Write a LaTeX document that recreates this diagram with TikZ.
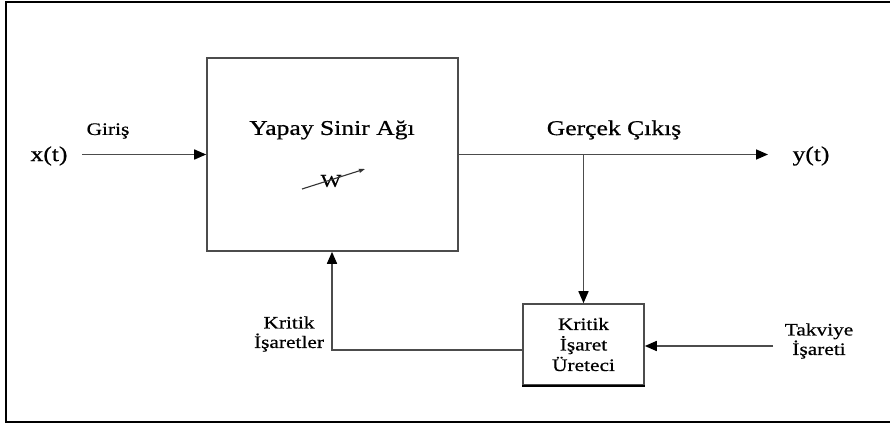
\documentclass[tikz,border=0pt]{standalone}
\usepackage{fontspec}
\setmainfont[FakeStretch=1.22,FakeBold=0.6]{Liberation Serif}
\usetikzlibrary{arrows.meta}
\begin{document}
\begin{tikzpicture}[x=1pt,y=-1pt,
  line/.style={draw=black!70, line width=1.6pt},
  arr/.style={line, -{Triangle[length=12pt,width=10pt,color=black]}},
  box/.style={line, inner sep=0pt, fill=white},
  lbl/.style={inner sep=0pt, align=center, font=\fontsize{17.5}{19.5}\selectfont},
  big/.style={inner sep=0pt, align=center, font=\fontsize{21}{24}\selectfont}]
\useasboundingbox (0,0) rectangle (890,425);
\draw[black, line width=2pt] (6,2) rectangle (900,422);
% main box
\node[box, minimum width=251pt, minimum height=193pt] (ann) at (332.5,154.5) {};
\node[big] (title) at (332,130) {Yapay Sinir Ağı};
\node[inner sep=0pt, font=\fontsize{18}{18}\selectfont] (w) at (331,181) {W};
\coordinate (wa) at (302,189);
\coordinate (wb) at (365,169);
\draw[black!80, line width=1.1pt, -{Triangle[length=6pt,width=4pt]}] (wa) -- (wb);
% critic box
\node[box, minimum width=121pt, minimum height=81pt, lbl, font=\fontsize{17.5}{20.5}\selectfont] (crit) at (583.5,344.5) {Kritik\\İşaret\\Üreteci};
\draw[black, line width=2.2pt] (crit.south west) -- (crit.south east);
% input
\node[big] (xt) at (49,156) {x(t)};
\node[lbl] (giris) at (108,131) {Giriş};
\coordinate (in) at (82,154.5);
\draw[arr] (in) -- (ann.west);
% output
\coordinate (out) at (768,154.5);
\draw[arr] (ann.east) -- (out);
\node[big] (yt) at (811,156) {y(t)};
\node[big] (gercek) at (614,130) {Gerçek Çıkış};
% branch to critic
\coordinate (br) at (crit.north |- ann.east);
\draw[arr] (br) -- (crit.north);
% reinforcement
\node[lbl] (takviye) at (819,341) {Takviye\\İşareti};
\coordinate (tk) at (773,346);
\draw[arr] (tk) -- (crit.east |- tk);
% feedback
\coordinate (fb) at (332,350);
\draw[arr] (crit.west |- fb) -- (fb) -- (fb |- ann.south);
\node[lbl] (kritik) at (289,334) {Kritik\\İşaretler};
\end{tikzpicture}
\end{document}
